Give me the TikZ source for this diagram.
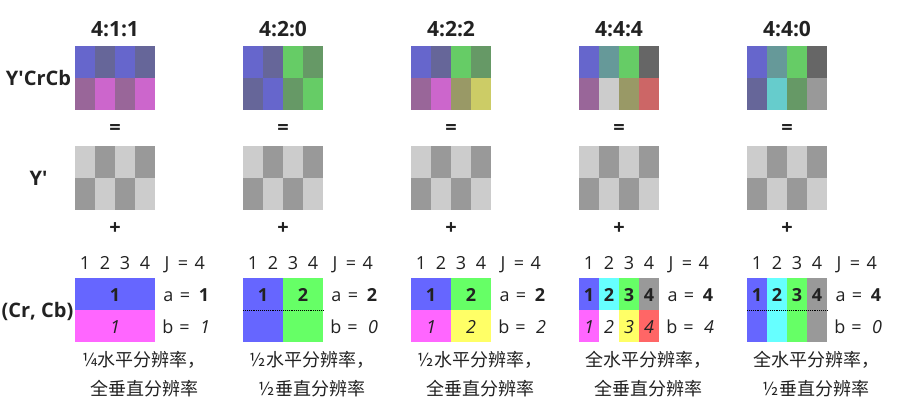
\documentclass[tikz,border=0pt]{standalone}
\usepackage{fontspec}
\newfontfamily\osans{Open Sans}
\newfontfamily\cjk{Noto Sans CJK SC}
\definecolor{txt}{HTML}{222222}
\definecolor{pB}{HTML}{6666CC}
\definecolor{pD}{HTML}{666699}
\definecolor{pM}{HTML}{996699}
\definecolor{pP}{HTML}{CC66CC}
\definecolor{gL}{HTML}{66CC66}
\definecolor{gD}{HTML}{669966}
\definecolor{tT}{HTML}{669999}
\definecolor{gK}{HTML}{666666}
\definecolor{lG}{HTML}{CCCCCC}
\definecolor{mG}{HTML}{999999}
\definecolor{oO}{HTML}{999966}
\definecolor{yY}{HTML}{CCCC66}
\definecolor{rR}{HTML}{CC6666}
\definecolor{cC}{HTML}{66CCCC}
\definecolor{chB}{HTML}{6666FF}
\definecolor{chM}{HTML}{FF66FF}
\definecolor{chG}{HTML}{66FF66}
\definecolor{chY}{HTML}{FFFF66}
\definecolor{chC}{HTML}{66FFFF}
\definecolor{chR}{HTML}{FF6666}
\definecolor{chW}{HTML}{FFFFFF}
\newcommand\pixrow[3]{\foreach \cl [count=\ci from 0] in {#3}{\fill[fill=\cl] ({#1+20*\ci},#2) rectangle +(20,32);}}
\begin{document}
\begin{tikzpicture}[x=1pt,y=-1pt,
  title/.style={font=\osans\bfseries\fontsize{21}{21}\selectfont, text=txt, inner sep=0pt, anchor=base},
  lbl/.style={font=\osans\bfseries\fontsize{20}{20}\selectfont, text=txt, inner sep=0pt, anchor=base},
  op/.style={font=\osans\bfseries\fontsize{20}{20}\selectfont, text=txt, inner sep=0pt},
  num/.style={font=\osans\fontsize{18}{18}\selectfont, text=txt, inner sep=0pt, anchor=base},
  bnum/.style={font=\osans\bfseries\fontsize{18}{18}\selectfont, text=txt, inner sep=0pt, anchor=base},
  inum/.style={font=\osans\itshape\fontsize{18}{18}\selectfont, text=txt, inner sep=0pt, anchor=base},
  cjkt/.style={font=\cjk\fontsize{18}{18}\selectfont, text=txt, inner sep=0pt, anchor=base},
  dotline/.style={densely dotted, line width=0.9pt, black}
]
\useasboundingbox (0,0) rectangle (899,410);

% row labels
\node[lbl] (lycc) at (38.5,85.3) {Y'CrCb};
\node[lbl] (ly) at (38.5,185) {Y'};
\node[lbl] (lcc) at (37.5,317) {(Cr, Cb)};

% combined Y'CrCb grids
\pixrow{75}{46}{pB,pD,pB,pD}
\pixrow{75}{78}{pM,pP,pM,pP}
\pixrow{243}{46}{pB,pD,gL,gD}
\pixrow{243}{78}{pD,pB,gD,gL}
\pixrow{411}{46}{pB,pD,gL,gD}
\pixrow{411}{78}{pM,pP,oO,yY}
\pixrow{579}{46}{pB,tT,gL,gK}
\pixrow{579}{78}{pM,lG,oO,rR}
\pixrow{747}{46}{pB,tT,gL,gK}
\pixrow{747}{78}{pD,cC,gD,mG}

% luma grids
\foreach \k in {0,...,4}{
  \pgfmathsetmacro\xo{75+168*\k}
  \pixrow{\xo}{146}{lG,mG,lG,mG}
  \pixrow{\xo}{178}{mG,lG,mG,lG}
}

% chroma grids
\fill[fill=chB] (75,278) rectangle (155,310);
\fill[fill=chM] (75,310) rectangle (155,342);
\fill[fill=chB] (243,278) rectangle (283,342);
\fill[fill=chG] (283,278) rectangle (323,342);
\draw[dotline] (243,310) -- (323,310);
\fill[fill=chB] (411,278) rectangle (451,310);
\fill[fill=chG] (451,278) rectangle (491,310);
\fill[fill=chM] (411,310) rectangle (451,342);
\fill[fill=chY] (451,310) rectangle (491,342);
\pixrow{579}{278}{chB,chC,chG,mG}
\pixrow{579}{310}{chM,chW,chY,chR}
\fill[fill=chB] (747,278) rectangle (767,342);
\fill[fill=chC] (767,278) rectangle (787,342);
\fill[fill=chG] (787,278) rectangle (807,342);
\fill[fill=mG] (807,278) rectangle (827,342);
\draw[dotline] (747,310) -- (827,310);

% chroma cell labels
\node[bnum] (c0a) at (115,301) {1};
\node[inum] (c0b) at (115,333) {1};
\node[bnum] (c1a) at (263,301) {1};
\node[bnum] (c1b) at (303,301) {2};
\node[bnum] (c2a) at (431,301) {1};
\node[bnum] (c2b) at (471,301) {2};
\node[inum] (c2c) at (431,333) {1};
\node[inum] (c2d) at (471,333) {2};
\foreach \j in {1,...,4}{
  \node[bnum] (c3t\j) at (569+20*\j,301) {\j};
  \node[inum] (c3b\j) at (569+20*\j,333) {\j};
  \node[bnum] (c4t\j) at (737+20*\j,301) {\j};
}

% per-column texts
\foreach \k/\t/\na/\nb/\lA/\lB in {
  0/4:1:1/1/1/¼水平分辨率，/全垂直分辨率,
  1/4:2:0/2/0/½水平分辨率，/½垂直分辨率,
  2/4:2:2/2/2/½水平分辨率，/全垂直分辨率,
  3/4:4:4/4/4/全水平分辨率，/全垂直分辨率,
  4/4:4:0/4/0/全水平分辨率，/½垂直分辨率}{
  \pgfmathsetmacro\xo{75+168*\k}
  \node[title] (t\k) at (\xo+40,36) {\t};
  \node[op] (eq\k) at (\xo+40,129) {=};
  \node[op] (pl\k) at (\xo+40,229) {+};
  \foreach \j in {1,...,4}{\node[num] (n\k\j) at (\xo+20*\j-10,269) {\j};}
  \node[num] (J\k) at (\xo+92,269) {J};
  \node[num] (Je\k) at (\xo+108,269) {=};
  \node[num] (Jn\k) at (\xo+124.7,269) {4};
  \node[num] (a\k) at (\xo+93.5,301) {a};
  \node[num] (ae\k) at (\xo+110,301) {=};
  \node[bnum] (an\k) at (\xo+129,301) {\na};
  \node[num] (b\k) at (\xo+93,333) {b};
  \node[num] (be\k) at (\xo+109.5,333) {=};
  \node[inum] (bn\k) at (\xo+130,333) {\nb};
  \node[cjkt] (h\k) at (\xo+69,366) {\lA};
  \node[cjkt] (v\k) at (\xo+69,395) {\lB};
}
\end{tikzpicture}
\end{document}
